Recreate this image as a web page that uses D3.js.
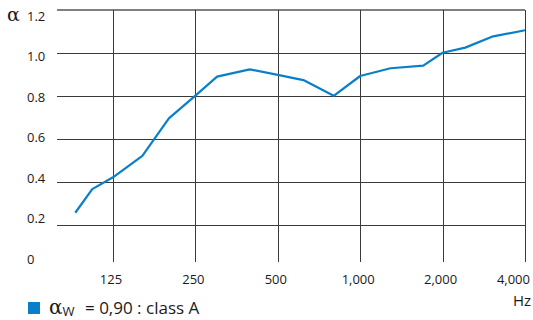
<!DOCTYPE html>
<html><head><meta charset="utf-8">
<script src="https://cdn.jsdelivr.net/npm/d3@7"></script>
<style>
html,body{margin:0;padding:0;background:#fff;}
svg{display:block;font-family:"Open Sans","Noto Sans",sans-serif;}
</style></head>
<body>
<svg id="c" width="533" height="320"></svg>
<script>
// Data
const frequencies = [91, 105, 125, 160, 200, 250, 300, 395, 500, 620, 800, 1000, 1290, 1700, 2000, 2420, 3030, 4000];
const alphaValues = [0.257, 0.367, 0.422, 0.522, 0.696, 0.802, 0.890, 0.924, 0.898, 0.874, 0.801, 0.893, 0.929, 0.941, 1.001, 1.025, 1.076, 1.106];
const xTicks = [125, 250, 500, 1000, 2000, 4000];
const xTickLabels = ["125", "250", "500", "1,000", "2,000", "4,000"];
const yTicks = [0, 0.2, 0.4, 0.6, 0.8, 1.0, 1.2];
const yTickLabels = ["0", "0.2", "0.4", "0.6", "0.8", "1.0", "1.2"];
const legendLabel = "= 0,90 : class A";

const svg = d3.select("#c");
const blue = "#0a7fc9";
const ink = "#1a1a1a";

const x = d3.scaleLog().domain([125, 4000]).range([113, 525]);
const y = d3.scaleLinear().domain([0, 1.2]).range([268, 10]);
const yLab = d3.scaleLinear().domain([0, 1.2]).range([259, 16]);

const crisp = v => Math.round(v) + 0.5;

// horizontal grid (skip 0)
svg.append("g").selectAll("line").data(yTicks.filter(d => d > 0)).join("line")
  .attr("x1", 57).attr("x2", 525)
  .attr("y1", d => d === 1.2 ? Math.round(y(d)) : crisp(y(d)))
  .attr("y2", d => d === 1.2 ? Math.round(y(d)) : crisp(y(d)))
  .attr("stroke", d => d === 1.2 ? "#808080" : "#3a3a3a")
  .attr("stroke-width", d => d === 1.2 ? 2.2 : 1);

// vertical grid
svg.append("g").selectAll("line").data(xTicks).join("line")
  .attr("x1", d => crisp(x(d))).attr("x2", d => crisp(x(d)))
  .attr("y1", 10).attr("y2", 262)
  .attr("stroke", "#3a3a3a").attr("stroke-width", 1);

// y labels
svg.append("g").selectAll("text").data(yTicks).join("text")
  .attr("x", 27).attr("y", d => yLab(d))
  .attr("dy", "0.36em")
  .attr("font-size", 13).attr("fill", ink)
  .text((d, i) => yTickLabels[i]);

// alpha symbol
svg.append("text").attr("x", 7).attr("y", 21)
  .attr("font-family", "'DejaVu Serif', serif")
  .attr("font-size", 19).attr("fill", ink).text("α");

// x labels
svg.append("g").selectAll("text").data(xTicks).join("text")
  .attr("x", (d, i) => i === xTicks.length - 1 ? x(d) + 5 : x(d) - 2)
  .attr("y", 284)
  .attr("text-anchor", (d, i) => i === xTicks.length - 1 ? "end" : "middle")
  .attr("font-size", 13).attr("fill", ink)
  .text((d, i) => xTickLabels[i]);

svg.append("text").attr("x", 531).attr("y", 306).attr("text-anchor", "end")
  .attr("font-size", 15).attr("fill", ink).text("Hz");

// data line
const line = d3.line().x(d => x(d[0])).y(d => y(d[1]));
svg.append("path")
  .datum(frequencies.map((f, i) => [f, alphaValues[i]]))
  .attr("d", line)
  .attr("fill", "none").attr("stroke", blue).attr("stroke-width", 2.2)
  .attr("stroke-linejoin", "round");

// legend
const lg = svg.append("g");
lg.append("rect").attr("x", 28).attr("y", 302).attr("width", 12).attr("height", 12).attr("fill", blue);
const lt = lg.append("text").attr("x", 49).attr("y", 314).attr("fill", ink).attr("font-size", 17);
lt.append("tspan").attr("font-family", "'DejaVu Serif', serif").attr("font-size", 20).text("α");
lt.append("tspan").attr("dy", 2).attr("font-size", 13).text("W");
lt.append("tspan").attr("dy", -2).attr("x", 85).text(legendLabel);
</script>
</body></html>
